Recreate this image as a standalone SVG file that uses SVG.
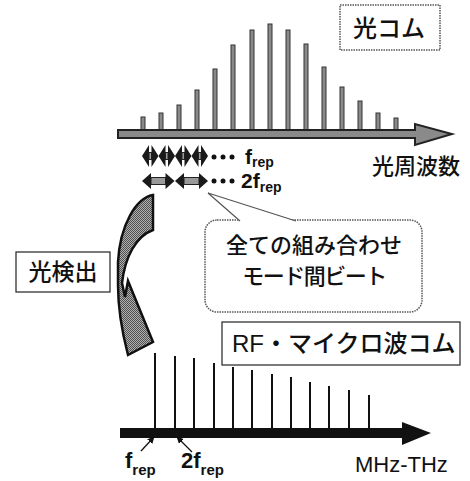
<svg xmlns="http://www.w3.org/2000/svg" width="470" height="481" viewBox="0 0 470 481">
<defs>
<pattern id="chk" width="2" height="2" patternUnits="userSpaceOnUse">
<rect width="2" height="2" fill="#b0b0b0"/>
<rect width="1" height="1" fill="#505050"/>
<rect x="1" y="1" width="1" height="1" fill="#505050"/>
</pattern>
<marker id="ah" viewBox="0 0 10 10" refX="9" refY="5" markerWidth="7" markerHeight="7" orient="auto" markerUnits="userSpaceOnUse">
<path d="M0,0 L10,5 L0,10 Z" fill="#111"/>
</marker>
</defs>
<style>
.jp{font-family:"Noto Sans CJK JP",sans-serif;font-weight:500;fill:#111}
.lat{font-family:"Liberation Sans","Noto Sans CJK JP",sans-serif;fill:#111}
.b{font-family:"Liberation Sans",Arial,sans-serif;font-weight:bold;fill:#111}
.tooth{fill:#8a8a8a;stroke:#333;stroke-width:1}
.rf{stroke:#111;stroke-width:2}
.dotbox{fill:#fff;stroke:#555;stroke-width:1.5;stroke-dasharray:1.5 1}
.solidbox{fill:#fff;stroke:#222;stroke-width:1.2}
.head{fill:#1a1a1a}
.shaft{fill:#9a9a9a;stroke:#222;stroke-width:1}
.dot{fill:#111}
</style>

<g id="optical-comb">
<rect class="tooth" x="141" y="117" width="4" height="13"/>
<rect class="tooth" x="159" y="113" width="4" height="17"/>
<rect class="tooth" x="177" y="105" width="4" height="25"/>
<rect class="tooth" x="195" y="90" width="4" height="40"/>
<rect class="tooth" x="213" y="69" width="4" height="61"/>
<rect class="tooth" x="231" y="45" width="4" height="85"/>
<rect class="tooth" x="250" y="30" width="4" height="100"/>
<rect class="tooth" x="268" y="24" width="4" height="106"/>
<rect class="tooth" x="286" y="30" width="4" height="100"/>
<rect class="tooth" x="304" y="44" width="4" height="86"/>
<rect class="tooth" x="322" y="67" width="4" height="63"/>
<rect class="tooth" x="340" y="87" width="4" height="43"/>
<rect class="tooth" x="358" y="101" width="4" height="29"/>
<rect class="tooth" x="376" y="113" width="4" height="17"/>
<rect class="tooth" x="394" y="118" width="4" height="12"/>
<path d="M118,130 H415 V124 L452,134 L415,145 V138 H118 Z" fill="#8a8a8a" stroke="#222" stroke-width="2"/>
</g>

<g id="label-optical-comb">
<rect class="dotbox" x="340" y="5" width="100" height="45"/>
<text class="jp" x="389" y="37" font-size="24" text-anchor="middle">光コム</text>
</g>

<g id="label-optical-freq">
<text class="jp" x="372" y="174" font-size="22">光周波数</text>
</g>

<g id="beat-frep">
<path class="head" d="M142,156 L149,145 L149,167 Z"/>
<rect class="shaft" x="149" y="152.5" width="2.5" height="7"/>
<path class="head" d="M158.5,156 L151.5,145 L151.5,167 Z"/>
<path class="head" d="M158.5,156 L165.5,145 L165.5,167 Z"/>
<rect class="shaft" x="165.5" y="152.5" width="2.5" height="7"/>
<path class="head" d="M175,156 L168,145 L168,167 Z"/>
<path class="head" d="M175,156 L182,145 L182,167 Z"/>
<rect class="shaft" x="182" y="152.5" width="2.5" height="7"/>
<path class="head" d="M191.5,156 L184.5,145 L184.5,167 Z"/>
<path class="head" d="M191.5,156 L198.5,145 L198.5,167 Z"/>
<rect class="shaft" x="198.5" y="152.5" width="2.5" height="7"/>
<path class="head" d="M208,156 L201,145 L201,167 Z"/>
<circle class="dot" cx="214" cy="157" r="2.5"/>
<circle class="dot" cx="223" cy="157" r="2.5"/>
<circle class="dot" cx="232" cy="157" r="2.5"/>
<text class="b" x="245" y="164" font-size="21">f<tspan font-size="14" dy="3">rep</tspan></text>
</g>

<g id="beat-2frep">
<path class="head" d="M142,181 L151,173 L151,189 Z"/>
<rect class="shaft" x="151" y="177.5" width="14.5" height="7"/>
<path class="head" d="M174.5,181 L165.5,173 L165.5,189 Z"/>
<path class="head" d="M175,181 L184,173 L184,189 Z"/>
<rect class="shaft" x="184" y="177.5" width="15" height="7"/>
<path class="head" d="M208,181 L199,173 L199,189 Z"/>
<circle class="dot" cx="214" cy="181" r="2.5"/>
<circle class="dot" cx="223" cy="181" r="2.5"/>
<circle class="dot" cx="232" cy="181" r="2.5"/>
<text class="b" x="241" y="188" font-size="21">2f<tspan font-size="14" dy="4">rep</tspan></text>
</g>

<g id="callout">
<rect class="dotbox" x="205" y="220" width="217" height="92" rx="12"/>
<polygon points="240,221.5 208,193 296,221.5" fill="#fff"/>
<polyline points="240,221 208,193 296,221" fill="none" stroke="#555" stroke-width="1.2"/>
<text class="jp" x="314" y="253" font-size="22" text-anchor="middle">全ての組み合わせ</text>
<text class="jp" x="314" y="284" font-size="22" text-anchor="middle" letter-spacing="-1.5">モード間ビート</text>
</g>

<g id="photodetect-arrow">
<path d="M153,195 C136,198 120,225 118,262 L118,285 C118,310 122,332 128,355 L153,342 L128,281 L125,297 L122,283 C125,257 136,236 153,230 Z" fill="url(#chk)" stroke="#111" stroke-width="2.5" stroke-linejoin="miter"/>
</g>

<g id="label-photodetect">
<rect class="solidbox" x="16" y="252" width="94" height="40"/>
<text class="jp" x="63" y="280" font-size="23" text-anchor="middle">光検出</text>
</g>

<g id="rf-comb">
<line class="rf" x1="155" y1="353" x2="155" y2="428"/>
<line class="rf" x1="175" y1="356" x2="175" y2="428"/>
<line class="rf" x1="194" y1="358" x2="194" y2="428"/>
<line class="rf" x1="214" y1="363" x2="214" y2="428"/>
<line class="rf" x1="233" y1="367" x2="233" y2="428"/>
<line class="rf" x1="252" y1="370" x2="252" y2="428"/>
<line class="rf" x1="272" y1="374" x2="272" y2="428"/>
<line class="rf" x1="291" y1="377" x2="291" y2="428"/>
<line class="rf" x1="310" y1="382" x2="310" y2="428"/>
<line class="rf" x1="329" y1="386" x2="329" y2="428"/>
<line class="rf" x1="349" y1="390" x2="349" y2="428"/>
<line class="rf" x1="369" y1="395" x2="369" y2="428"/>
<path d="M120,428 H402 V422 L431,433 L402,445 V438 H120 Z" fill="#111"/>
</g>

<g id="label-rf-comb">
<rect class="solidbox" x="222" y="322" width="238" height="43"/>
<text class="lat" x="232" y="352" font-size="24">RF<tspan class="jp">・マイクロ波コム</tspan></text>
</g>

<g id="connectors">
<line x1="141" y1="451" x2="154" y2="437" stroke="#111" stroke-width="1.3" marker-end="url(#ah)"/>
<line x1="192" y1="452" x2="177" y2="437" stroke="#111" stroke-width="1.3" marker-end="url(#ah)"/>
</g>

<g id="labels-rf">
<text class="b" x="125" y="468" font-size="22">f<tspan font-size="15" dy="7">rep</tspan></text>
<text class="b" x="181" y="468" font-size="22">2f<tspan font-size="15" dy="7">rep</tspan></text>
<text class="lat" x="355" y="472" font-size="22">MHz-THz</text>
</g>
</svg>
